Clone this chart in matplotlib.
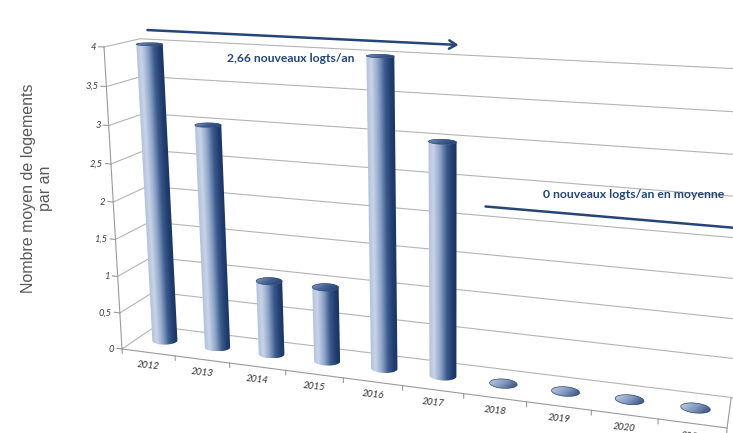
import numpy as np
import matplotlib.pyplot as plt
from matplotlib.colors import LinearSegmentedColormap
from matplotlib.patches import Polygon

# Données
annees = ["2012", "2013", "2014", "2015", "2016", "2017", "2018", "2019", "2020", "2021"]
logements = [4, 3, 1, 1, 4, 3, 0, 0, 0, 0]
graduations = [0, 0.5, 1, 1.5, 2, 2.5, 3, 3.5, 4]
graduations_txt = ["0", "0,5", "1", "1,5", "2", "2,5", "3", "3,5", "4"]
fin_periode_1 = 6  # 2012-2017 / 2018-2021

moyenne_1 = np.mean(logements[:fin_periode_1])
moyenne_2 = np.mean(logements[fin_periode_1:])
texte_1 = f"{int(moyenne_1 * 100) / 100:.2f}".replace(".", ",") + " nouveaux logts/an"
texte_2 = f"{moyenne_2:g} nouveaux logts/an en moyenne"

# Vue 3D : (catégorie, profondeur, valeur) -> pixels
P = np.array([
    [50.69, 41.4, -5.84, 122.0],
    [2.12, -5.84, -76.1, 349.0],
    [-0.0135, 0.0517, -0.0129, 1.0],
])


def proj(x, y, z):
    x, y, z = np.broadcast_arrays(np.asarray(x, float), np.asarray(y, float), np.asarray(z, float))
    h = P @ np.vstack([x.ravel(), y.ravel(), z.ravel(), np.ones(x.size)])
    return h[0] / h[2], h[1] / h[2]


W, H = 733, 433
fig = plt.figure(figsize=(W / 100, H / 100), dpi=100)
ax = fig.add_axes([0, 0, 1, 1])
ax.axis("off")

n = len(annees)
gris = "#b4b4b4"
bleu = "#254578"

# Parois : quadrillage du fond et du côté gauche
for g in graduations:
    u, v = proj([0, 0, n + 0.5], [0, 1, 1], [g, g, g])
    ax.plot(u, v, color=gris, lw=0.8, zorder=1)

# Axe vertical et sol
u, v = proj([0, 0], [0, 0], [0, graduations[-1]])
ax.plot(u, v, color="#9a9a9a", lw=0.8, zorder=2)
u, v = proj([0, n, n], [0, 0, 1], [0, 0, 0])
ax.plot(u, v, color="#9a9a9a", lw=0.8, zorder=2)

for g, txt in zip(graduations, graduations_txt):
    u, v = proj([0, -0.1], [0, 0], [g, g])
    ax.plot(u, v, color="#9a9a9a", lw=0.8, zorder=2)
    ax.text(u[0] - 8, v[0], txt, ha="right", va="center", fontsize=6.8,
            family="Lato", style="italic", color="#404040")

for k in range(n + 1):
    u, v = proj([k, k], [0, 0], [0, -0.06])
    ax.plot(u, v, color="#9a9a9a", lw=0.8, zorder=2)

for i, an in enumerate(annees):
    u, v = proj(i + 0.5, 0, 0)
    ax.annotate(an, (u[0], v[0]), xytext=(0, -9.4), textcoords="offset points",
                ha="center", va="center", fontsize=7, family="Lato",
                style="italic", color="#333333", rotation=-6,
                rotation_mode="anchor", annotation_clip=False)

# Cylindres
cmap_corps = LinearSegmentedColormap.from_list(
    "corps", [(0, "#b3c3dc"), (0.18, "#c8d4e8"), (0.42, "#8ca3c8"),
              (0.65, "#3b5a8c"), (0.85, "#213e6f"), (1, "#1b3562")])
cmap_dessus = LinearSegmentedColormap.from_list(
    "dessus", ["#8aa0c4", "#405e90", "#213c6a"])
cmap_disque = LinearSegmentedColormap.from_list(
    "disque", ["#c3cfe3", "#8199bf", "#2c4674"])

rx, ry, yc = 0.22, 0.16, 0.5
theta = np.linspace(0, 2 * np.pi, 361)
gx, gy = np.meshgrid(np.linspace(0, 1, 64), np.linspace(0, 1, 32))
degrade_face = 0.7 * gx + 0.3 * gy


def cercle(cx, a, z):
    return proj(cx + rx * np.cos(a), yc + ry * np.sin(a), np.full_like(a, z))


for i, val in enumerate(logements):
    cx = i + 0.5
    if val > 0:
        um, _ = cercle(cx, theta, val / 2)
        a0, a1 = theta[np.argmin(um)], theta[np.argmax(um)]
        if a1 < a0:
            a1 += 2 * np.pi
        arcs = [np.linspace(a0, a1, 90), np.linspace(a0, a1 - 2 * np.pi, 90)]
        arc = max(arcs, key=lambda a: cercle(cx, a, 0)[1].mean())
        ub, vb = cercle(cx, arc, 0)
        ut, vt = cercle(cx, arc, val)
        contour = np.column_stack([np.r_[ub, ut[::-1]], np.r_[vb, vt[::-1]]])
        corps = Polygon(contour, closed=True, facecolor="none", edgecolor="none", zorder=3)
        ax.add_patch(corps)

        # dégradé suivant les bords gauche/droit du cylindre
        x0, x1 = contour[:, 0].min(), contour[:, 0].max()
        y0, y1 = contour[:, 1].min(), contour[:, 1].max()
        xs = np.linspace(x0, x1, int(x1 - x0) * 3 + 2)
        ys = np.linspace(y0, y1, int(y1 - y0) + 2)
        XX, YY = np.meshgrid(xs, ys)
        s = (YY - vb[0]) / (vt[0] - vb[0])
        gauche = ub[0] + s * (ut[0] - ub[0])
        droite = ub[-1] + s * (ut[-1] - ub[-1])
        tt = np.clip((XX - gauche) / (droite - gauche), 0, 1)
        img = ax.imshow(tt, cmap=cmap_corps, vmin=0, vmax=1, extent=(x0, x1, y1, y0),
                        origin="upper", aspect="auto", interpolation="bilinear", zorder=3)
        img.set_clip_path(corps)

    uf, vf = cercle(cx, theta, val)
    face = Polygon(np.column_stack([uf, vf]), closed=True, facecolor="none",
                   edgecolor="#2a4572", lw=0.5, zorder=5)
    ax.add_patch(face)
    img = ax.imshow(degrade_face, cmap=cmap_dessus if val > 0 else cmap_disque,
                    extent=(uf.min(), uf.max(), vf.max(), vf.min()),
                    aspect="auto", interpolation="bilinear", zorder=4)
    img.set_clip_path(face)

# Annotations : moyennes par période
fleche = dict(arrowstyle="->,head_length=0.5,head_width=0.3", color=bleu, lw=1.8,
              shrinkA=0, shrinkB=0)
u, v = proj([0.15, fin_periode_1 - 0.4], [1, 1], [4.12, 4.12])
ax.annotate("", xy=(u[1], v[1]), xytext=(u[0], v[0]), arrowprops=fleche, zorder=6)
u, v = proj(2.75, 1, 3.85)
ax.text(u[0], v[0], texte_1, ha="center", va="center", fontsize=8.7,
        family="Lato", weight="bold", color=bleu, zorder=6)

u, v = proj([fin_periode_1 + 0.05, n + 0.4], [1, 1], [2.12, 2.12])
ax.annotate("", xy=(u[1], v[1]), xytext=(u[0], v[0]), annotation_clip=False,
            arrowprops=fleche, zorder=6)
u, v = proj(8.4, 1, 2.42)
ax.text(u[0], v[0], texte_2, ha="center", va="center", fontsize=8.8,
        family="Lato", weight="bold", color=bleu, zorder=6)

# Titre de l'axe
ax.text(37, 188, "Nombre moyen de logements\npar an", rotation=90, ha="center",
        va="center", fontsize=11.5, family="Liberation Sans", color="#595959",
        linespacing=1.15)

ax.set_xlim(0, W)
ax.set_ylim(H, 0)
ax.set_aspect("auto")

fig.savefig("out.png", dpi=100)
